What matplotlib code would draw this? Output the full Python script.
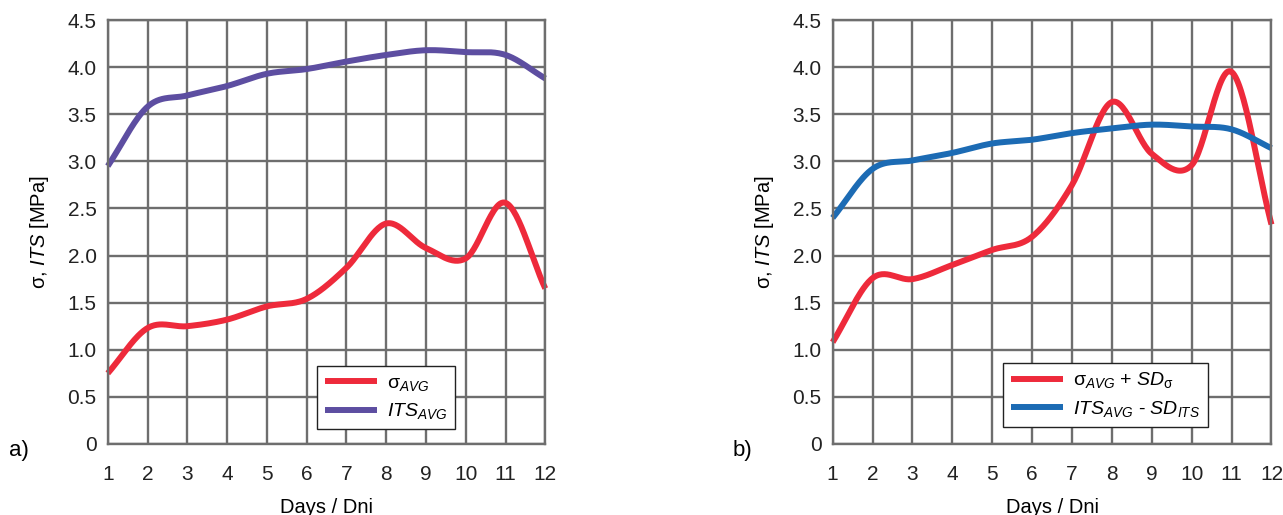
#!/usr/bin/env python3
"""Strength (sigma) and ITS over curing days, panels a) and b)."""

import matplotlib

matplotlib.use("Agg")
import matplotlib.pyplot as plt  # noqa: E402
import numpy as np  # noqa: E402

DAYS = [1, 2, 3, 4, 5, 6, 7, 8, 9, 10, 11, 12]

# panel a) averages
SIGMA_AVG = [0.75, 1.23, 1.25, 1.32, 1.46, 1.54, 1.87, 2.34, 2.08, 1.97, 2.56, 1.65]
ITS_AVG = [2.95, 3.58, 3.70, 3.80, 3.93, 3.98, 4.06, 4.13, 4.18, 4.16, 4.13, 3.88]

# panel b) sigma + SD, ITS - SD
SIGMA_PLUS_SD = [1.08, 1.76, 1.75, 1.90, 2.06, 2.20, 2.75, 3.63, 3.08, 2.96, 3.95, 2.33]
ITS_MINUS_SD = [2.40, 2.92, 3.01, 3.09, 3.19, 3.23, 3.30, 3.35, 3.39, 3.37, 3.34, 3.14]

Y_TICKS = [0, 0.5, 1.0, 1.5, 2.0, 2.5, 3.0, 3.5, 4.0, 4.5]
Y_TICK_LABELS = ["0", "0.5", "1.0", "1.5", "2.0", "2.5", "3.0", "3.5", "4.0", "4.5"]

RED = "#ee2a3b"
PURPLE = "#5d4ea1"
BLUE = "#1c6bb4"
GRID = "#6e6e6e"

plt.rcParams["font.family"] = ["Liberation Sans", "DejaVu Sans"]
plt.rcParams["mathtext.fontset"] = "custom"
plt.rcParams["mathtext.rm"] = "Liberation Sans"
plt.rcParams["mathtext.it"] = "Liberation Sans:italic"
plt.rcParams["mathtext.default"] = "it"


def smooth(x, y, steps=30):
    """Excel-like smoothed line (Catmull-Rom through the data points)."""
    x = np.asarray(x, float)
    y = np.asarray(y, float)
    px = np.concatenate([[2 * x[0] - x[1]], x, [2 * x[-1] - x[-2]]])
    py = np.concatenate([[2 * y[0] - y[1]], y, [2 * y[-1] - y[-2]]])
    xs, ys = [], []
    t = np.linspace(0, 1, steps, endpoint=False)
    for i in range(1, len(px) - 2):
        for arr, out in ((px, xs), (py, ys)):
            p0, p1, p2, p3 = arr[i - 1], arr[i], arr[i + 1], arr[i + 2]
            out.extend(0.5 * (2 * p1 + (-p0 + p2) * t
                              + (2 * p0 - 5 * p1 + 4 * p2 - p3) * t ** 2
                              + (-p0 + 3 * p1 - 3 * p2 + p3) * t ** 3))
    xs.append(x[-1])
    ys.append(y[-1])
    return np.array(xs), np.array(ys)


def style_axes(ax):
    ax.set_xlim(1, 12)
    ax.set_ylim(0, 4.5)
    ax.set_xticks(DAYS)
    ax.set_yticks(Y_TICKS)
    ax.set_yticklabels(Y_TICK_LABELS)
    ax.tick_params(axis="both", length=0, labelsize=15, colors="#222222")
    ax.tick_params(axis="x", pad=15)
    ax.tick_params(axis="y", pad=8)
    ax.grid(True, color=GRID, linewidth=1.7)
    ax.set_axisbelow(True)
    for sp in ax.spines.values():
        sp.set_color(GRID)
        sp.set_linewidth(1.7)
    ax.set_xlabel("Days / Dni", fontsize=14.5, labelpad=10)
    ax.set_ylabel("σ, $ITS$ [MPa]", fontsize=14.5, labelpad=12)


fig = plt.figure(figsize=(12.83, 5.15), dpi=100)
ax_a = fig.add_axes([0.084, 0.138, 0.341, 0.823])
ax_b = fig.add_axes([0.649, 0.138, 0.342, 0.823])

for ax, series, anchor in (
    (ax_a, [(SIGMA_AVG, RED, "σ$_{AVG}$"), (ITS_AVG, PURPLE, "$ITS_{AVG}$")], (0.478, 0.035)),
    (ax_b, [(SIGMA_PLUS_SD, RED, "σ$_{AVG}$ + $SD_{\\mathrm{σ}}$"),
            (ITS_MINUS_SD, BLUE, "$ITS_{AVG}$ - $SD_{ITS}$")], (0.388, 0.04)),
):
    for vals, color, label in series:
        sx, sy = smooth(DAYS, vals)
        ax.plot(sx, sy, color=color, linewidth=4.3, label=label, solid_capstyle="butt", clip_on=False)
    style_axes(ax)
    leg = ax.legend(loc="lower left", bbox_to_anchor=anchor, fontsize=14, frameon=True,
                    fancybox=False, framealpha=1, edgecolor="#222222", handlelength=2.7,
                    handletextpad=0.5, borderpad=0.4, labelspacing=0.45, borderaxespad=0)
    leg.get_frame().set_linewidth(1.0)
    for line in leg.get_lines():
        line.set_linewidth(4.3)

fig.text(0.007, 0.115, "a)", fontsize=16)
fig.text(0.571, 0.115, "b)", fontsize=16)

fig.savefig("out.png", dpi=100)
